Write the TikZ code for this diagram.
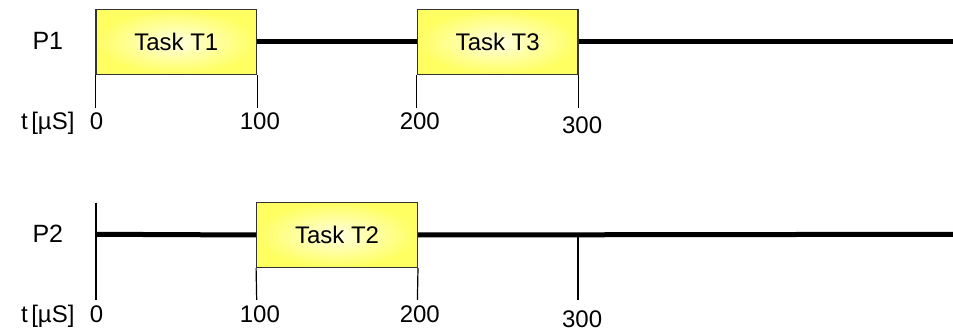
\documentclass[tikz,border=0pt]{standalone}
\usepackage{fontspec}
\setmainfont{Liberation Sans}
\usepackage{tikz}
\usetikzlibrary{positioning}

\begin{document}
\begin{tikzpicture}[
    x=0.8035pt, y=0.5pt,
    task/.style={rectangle, draw=black!80, line width=0.6pt, inner color=yellow!12, outer color=yellow!62, minimum width=80.35pt, minimum height=32.5pt, inner sep=0pt, font=\fontsize{12}{14}\selectfont},
    proc/.style={font=\fontsize{12.5}{14}\selectfont},
    timeline/.style={line width=2.5pt, color=black},
    tick/.style={line width=0.6pt, color=black},
    stamp/.style={anchor=base, font=\fontsize{12}{14}\selectfont}
]
\useasboundingbox (-59.74,0) rectangle (533.3,332);

% processor P1
\node[proc] (p1) at (-30,291) {P1};
\node[task] (t1) at (50,290) {Task T1};
\node[task] (t3) at (250,290) {Task T3};
\coordinate (p1end) at (533.3,290);
\draw[timeline] (t1.east) -- (t3.west);
\draw[timeline] (t3.east) -- (p1end);

\node[stamp] (u1) at (-30,202) {t\hspace{0.15em}[µS]};
\node[stamp] (a0) at (0.3,202) {0};
\node[stamp] (a100) at (102,202) {100};
\node[stamp] (a200) at (201.5,202) {200};
\node[stamp] (a300) at (302.5,198) {300};
\draw[tick] (t1.south west) -- ++(0,-33);
\draw[tick] (t1.south east) -- ++(0,-33);
\draw[tick] (t3.south west) -- ++(0,-33);
\draw[tick] (t3.south east) -- ++(0,-33);

% processor P2
\node[proc] (p2) at (-30,98) {P2};
\node[task] (t2) at (150,97) {Task T2};
\coordinate (p2start) at (0,97.7);
\coordinate (p2end) at (533.3,97.7);
\draw[timeline] (p2start) -- (t2.west);
\draw[timeline] (t2.east) -- (p2end);

\node[stamp] (u2) at (-30,9) {t\hspace{0.15em}[µS]};
\node[stamp] (b0) at (0.3,9) {0};
\node[stamp] (b100) at (102,9) {100};
\node[stamp] (b200) at (201.5,9) {200};
\node[stamp] (b300) at (302.5,4) {300};
\draw[tick] (0,129.3) -- (0,32);
\draw[tick] (t2.south west) -- (100,32);
\draw[tick] (t2.south east) -- (200,32);
\draw[tick] (300,97.7) -- (300,32);

\end{tikzpicture}
\end{document}
